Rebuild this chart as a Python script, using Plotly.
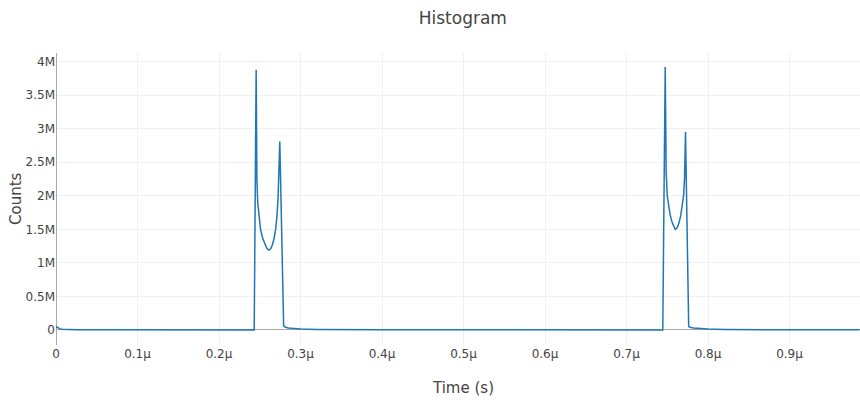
import numpy as np
import plotly.graph_objects as go

# Bin centres (ns) and the counts in each bin
time_ns = [
    0, 1, 2, 4, 7, 12, 25, 60, 150, 243.2,
    245.6, 246.0, 246.5, 247.5, 249.0, 251.0, 253.5, 256.0, 258.5, 261.0,
    263.5, 265.5, 267.5, 269.5, 271.0, 272.5, 273.5, 274.6, 279.3, 281,
    285, 290, 300, 320, 350, 400, 500, 600, 744.5,
    747.5, 748.0, 748.7, 750.0, 751.5, 753.5, 756.0, 758.0, 759.8, 762.0,
    764.5, 766.5, 768.5, 770.0, 771.2, 772.4, 776.3, 778, 782, 790,
    800, 820, 850, 900, 986,
]
counts = [
    30000, 45000, 40000, 20000, 10000, 6000, 3000, 1500, 1000, 1000,
    3880000, 2750000, 2250000, 1900000, 1680000, 1500000, 1370000, 1280000, 1220000, 1190000,
    1210000, 1270000, 1360000, 1500000, 1680000, 1980000, 2300000, 2810000, 60000, 45000,
    30000, 22000, 14000, 8000, 5000, 3000, 2000, 1500, 1000,
    3920000, 2850000, 2350000, 2000000, 1860000, 1720000, 1600000, 1530000, 1500000, 1520000,
    1600000, 1700000, 1840000, 2000000, 2250000, 2950000, 50000, 40000, 30000, 20000,
    13000, 8000, 5000, 3000, 2000,
]

time_s = np.array(time_ns) * 1e-9

fig = go.Figure(
    go.Scatter(
        x=time_s,
        y=counts,
        mode="lines",
        line=dict(color="#1f77b4", width=1.5),
        showlegend=False,
    )
)

fig.update_layout(
    template="none",
    width=860,
    height=401,
    margin=dict(l=56, r=0, t=53, b=56),
    paper_bgcolor="white",
    plot_bgcolor="white",
    font=dict(family="Verdana, 'DejaVu Sans', sans-serif", size=12, color="#444"),
    title=dict(text="Histogram", x=0.506, xref="paper", xanchor="center", y=0.955, yanchor="middle",
               font=dict(size=17)),
    annotations=[
        # axis titles, placed as free text
        dict(text="Time (s)", xref="paper", yref="paper", x=0.5062, y=0,
             xanchor="center", yanchor="middle", yshift=-43, showarrow=False,
             font=dict(size=15, color="#444")),
        dict(text="Counts", xref="paper", yref="paper", x=0, y=0.5,
             xanchor="center", yanchor="middle", xshift=-40, textangle=-90,
             showarrow=False, font=dict(size=15, color="#444")),
    ],
)
fig.update_xaxes(
    range=[0, 0.9865e-6],
    dtick=1e-7,
    tick0=0,
    exponentformat="SI",
    showgrid=True,
    gridcolor="#f0f0f0",
    zeroline=True,
    zerolinecolor="#aaaaaa",
    zerolinewidth=1,
    showline=False,
    ticks="",
)
fig.update_yaxes(
    range=[-0.224e6, 4.128e6],
    dtick=500000,
    tick0=0,
    exponentformat="SI",
    showgrid=True,
    gridcolor="#f0f0f0",
    zeroline=True,
    zerolinecolor="#aaaaaa",
    zerolinewidth=1,
    showline=False,
    ticks="",
)

fig.write_html("out.html")
